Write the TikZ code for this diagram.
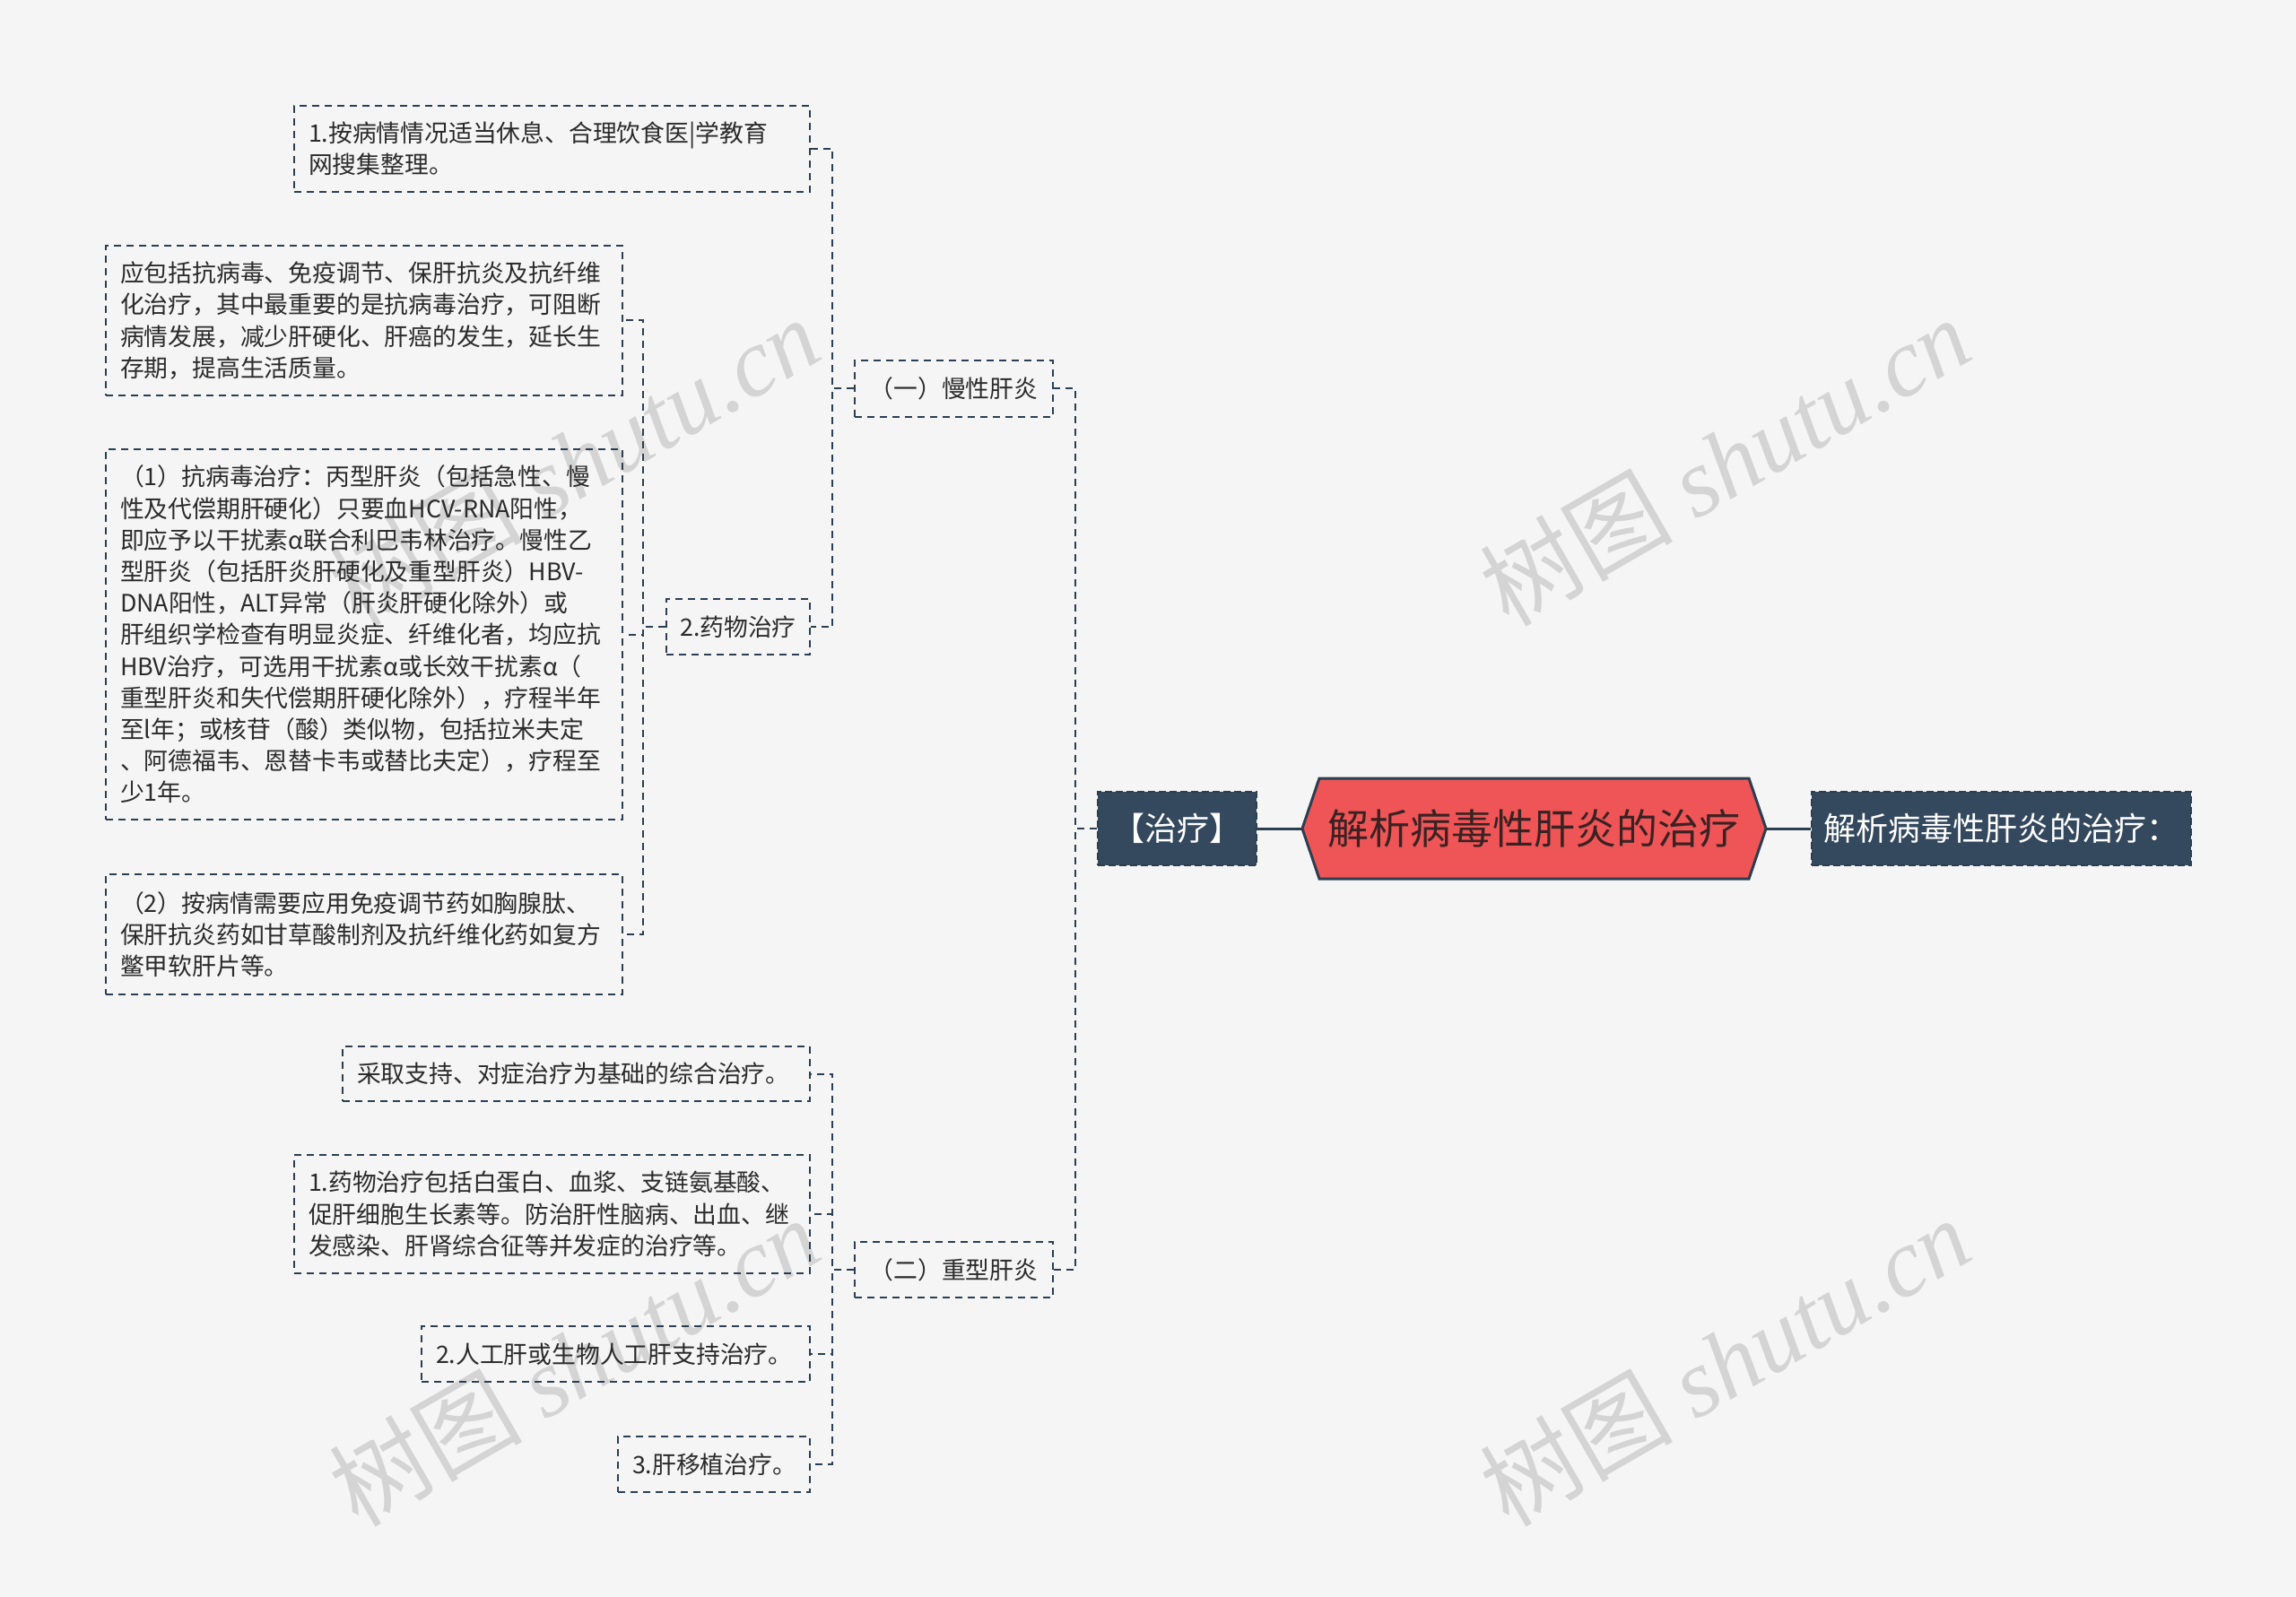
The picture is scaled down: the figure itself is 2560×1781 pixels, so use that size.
\documentclass[tikz,border=0pt]{standalone}
\usepackage{fontspec}
\setmainfont{Noto Sans CJK SC}
\newfontfamily\wmserif{Liberation Serif}
\definecolor{bg}{HTML}{F5F5F5}
\definecolor{navy}{HTML}{2C3E50}
\definecolor{navyfill}{HTML}{34495E}
\definecolor{redfill}{HTML}{EF5557}
\definecolor{ctext}{HTML}{3B2222}
\definecolor{txt}{HTML}{2B2B2B}
\definecolor{wm}{HTML}{D4D4D4}
\begin{document}
\begin{tikzpicture}[x=0.5pt,y=-0.5pt,
  box/.style={draw=navy, line width=1pt, dash pattern=on 4pt off 3pt,
    font=\fontsize{13.4}{17.6}\selectfont, text=txt, inner sep=0pt, align=left},
  sbox/.style={draw=navy, line width=1pt, dash pattern=on 4pt off 3pt,
    font=\fontsize{13.4}{17.6}\selectfont, text=txt, inner sep=0pt, align=center},
  dbox/.style={draw=navy, fill=navyfill, line width=1pt, dash pattern=on 4pt off 2pt,
    font=\fontsize{18}{22}\selectfont, text=white, inner sep=0pt},
  conn/.style={draw=navy, line width=1pt, dash pattern=on 4pt off 3pt},
  mainconn/.style={draw=navy, line width=1.5pt},
  wmark/.style={text=wm, rotate=30, font=\fontsize{54}{60}\selectfont, inner sep=0pt}]
\fill[bg] (0,0) rectangle (2560,1781);
\useasboundingbox (0,0) rectangle (2560,1781);

% watermarks
\node[wmark] (w1) at (640,514) {树图 {\wmserif\itshape shutu.cn}};
\node[wmark] (w2) at (1923,514) {树图 {\wmserif\itshape shutu.cn}};
\node[wmark] (w3) at (640,1518) {树图 {\wmserif\itshape shutu.cn}};
\node[wmark] (w4) at (1923,1518) {树图 {\wmserif\itshape shutu.cn}};

% centre
\draw[navy, line width=1.5pt, fill=redfill] (1452,924) -- (1471,868) -- (1950,868) -- (1969,924) -- (1950,980) -- (1471,980) -- cycle;
\node[minimum width=258.5pt, minimum height=56pt, inner sep=0pt, text=ctext,
  font=\fontsize{23}{28}\selectfont] (c) at (1710.5,924) {解析病毒性肝炎的治疗};

\node[dbox, minimum width=88.5pt, minimum height=41pt] (zl) at (1312.5,924) {【治疗】};
\node[dbox, minimum width=211.5pt, minimum height=41pt] (r) at (2231.5,924) {解析病毒性肝炎的治疗：};

\node[sbox, minimum width=110.5pt, minimum height=31.5pt] (mx) at (1063.5,433.5) {（一）慢性肝炎};
\node[sbox, minimum width=110.5pt, minimum height=31pt] (zx) at (1063.5,1416) {（二）重型肝炎};
\node[sbox, minimum width=80pt, minimum height=31pt] (yw) at (823,699) {2.药物治疗};

\node[box, minimum width=287.5pt, minimum height=48pt, text width=271.5pt] (b1) at (615.5,166)
  {1.按病情情况适当休息、合理饮食医|学教育\\网搜集整理。};
\node[box, minimum width=288pt, minimum height=83.5pt, text width=272pt] (b2) at (406,357.5)
  {应包括抗病毒、免疫调节、保肝抗炎及抗纤维\\化治疗，其中最重要的是抗病毒治疗，可阻断\\病情发展，减少肝硬化、肝癌的发生，延长生\\存期，提高生活质量。};
\node[box, minimum width=288pt, minimum height=206.5pt, text width=272pt] (b3) at (406,707.5)
  {（1）抗病毒治疗：丙型肝炎（包括急性、慢\\性及代偿期肝硬化）只要血HCV-RNA阳性，\\即应予以干扰素α联合利巴韦林治疗。慢性乙\\型肝炎（包括肝炎肝硬化及重型肝炎）HBV-\\DNA阳性，ALT异常（肝炎肝硬化除外）或\\肝组织学检查有明显炎症、纤维化者，均应抗\\HBV治疗，可选用干扰素α或长效干扰素α（\\重型肝炎和失代偿期肝硬化除外），疗程半年\\至l年；或核苷（酸）类似物，包括拉米夫定\\、阿德福韦、恩替卡韦或替比夫定），疗程至\\少1年。};
\node[box, minimum width=288pt, minimum height=67pt, text width=272pt] (b4) at (406,1042)
  {（2）按病情需要应用免疫调节药如胸腺肽、\\保肝抗炎药如甘草酸制剂及抗纤维化药如复方\\鳖甲软肝片等。};

\node[box, minimum width=260.5pt, minimum height=30.5pt, text width=244.5pt] (s1) at (642.5,1197.5)
  {采取支持、对症治疗为基础的综合治疗。};
\node[box, minimum width=287.5pt, minimum height=66pt, text width=271.5pt] (s2) at (615.5,1354)
  {1.药物治疗包括白蛋白、血浆、支链氨基酸、\\促肝细胞生长素等。防治肝性脑病、出血、继\\发感染、肝肾综合征等并发症的治疗等。};
\node[box, minimum width=216.5pt, minimum height=31pt, text width=200.5pt] (s3) at (686.5,1510)
  {2.人工肝或生物人工肝支持治疗。};
\node[box, minimum width=107pt, minimum height=31pt, text width=91pt] (s4) at (796,1633)
  {3.肝移植治疗。};

% connectors
\draw[mainconn] (c.west) -- (zl.east);
\draw[mainconn] (c.east) -- (r.west);
\draw[conn] (zl.west) -- ++(-24,0) |- (mx.east);
\draw[conn] (zl.west) -- ++(-24,0) |- (zx.east);
\draw[conn] (mx.west) -- ++(-24,0) |- (b1.east);
\draw[conn] (mx.west) -- ++(-24,0) |- (yw.east);
\draw[conn] (yw.west) -- ++(-25,0) |- (b2.east);
\draw[conn] (yw.west) -- ++(-25,0) |- (b3.east);
\draw[conn] (yw.west) -- ++(-25,0) |- (b4.east);
\draw[conn] (zx.west) -- ++(-24,0) |- (s1.east);
\draw[conn] (zx.west) -- ++(-24,0) |- (s2.east);
\draw[conn] (zx.west) -- ++(-24,0) |- (s3.east);
\draw[conn] (zx.west) -- ++(-24,0) |- (s4.east);
\end{tikzpicture}
\end{document}
